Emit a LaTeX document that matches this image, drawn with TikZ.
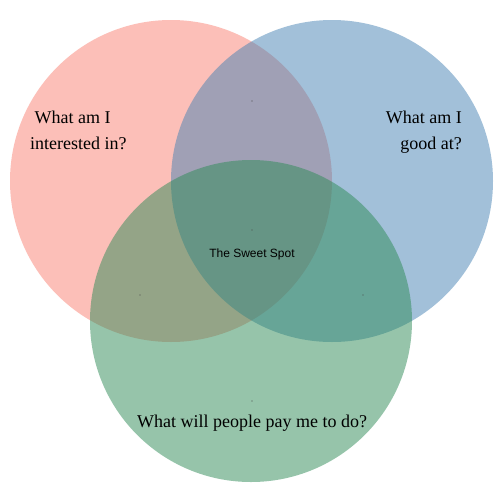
\documentclass[tikz,border=0pt]{standalone}
\usepackage{fontspec}
\setmainfont{Liberation Serif}
\setsansfont{Liberation Sans}
\begin{document}
\begin{tikzpicture}[x=1pt,y=-1pt]
		\tikzset{set/.style = {fill opacity=0.5}}
		\tikzset{question/.style = {inner sep=0pt, font=\fontsize{18}{26}\selectfont}}
		\tikzset{speck/.style = {fill=black!70}}

		\useasboundingbox (0,0) rectangle (504,504);
		\fill[white] (0,0) rectangle (504,504);

		\fill[set, fill={rgb,255:red,250;green,128;blue,114}] (171,181) circle (161);
		\fill[set, fill={rgb,255:red,70;green,130;blue,180}] (332,181) circle (161);
		\fill[set, fill={rgb,255:red,46;green,139;blue,87}] (251,321) circle (161);

		% base anchor sits on the last line
		\node[question, anchor=base west, align=left] (interest) at (30,149) {~What am I\\interested in?};
		\node[question, anchor=base east, align=right] (good) at (462,149) {What am I\\good at?};
		\node[question, anchor=base] (pay) at (252,427) {What will people pay me to do?};
		\node[inner sep=0pt, anchor=base, font=\sffamily\fontsize{12}{14}\selectfont] (sweet) at (252,257) {The Sweet Spot};

		\foreach \x/\y in {252/101, 252/230, 140/295, 363/295, 252/401}
			\fill[speck] (\x,\y) circle (0.6);

	\end{tikzpicture}
\end{document}
